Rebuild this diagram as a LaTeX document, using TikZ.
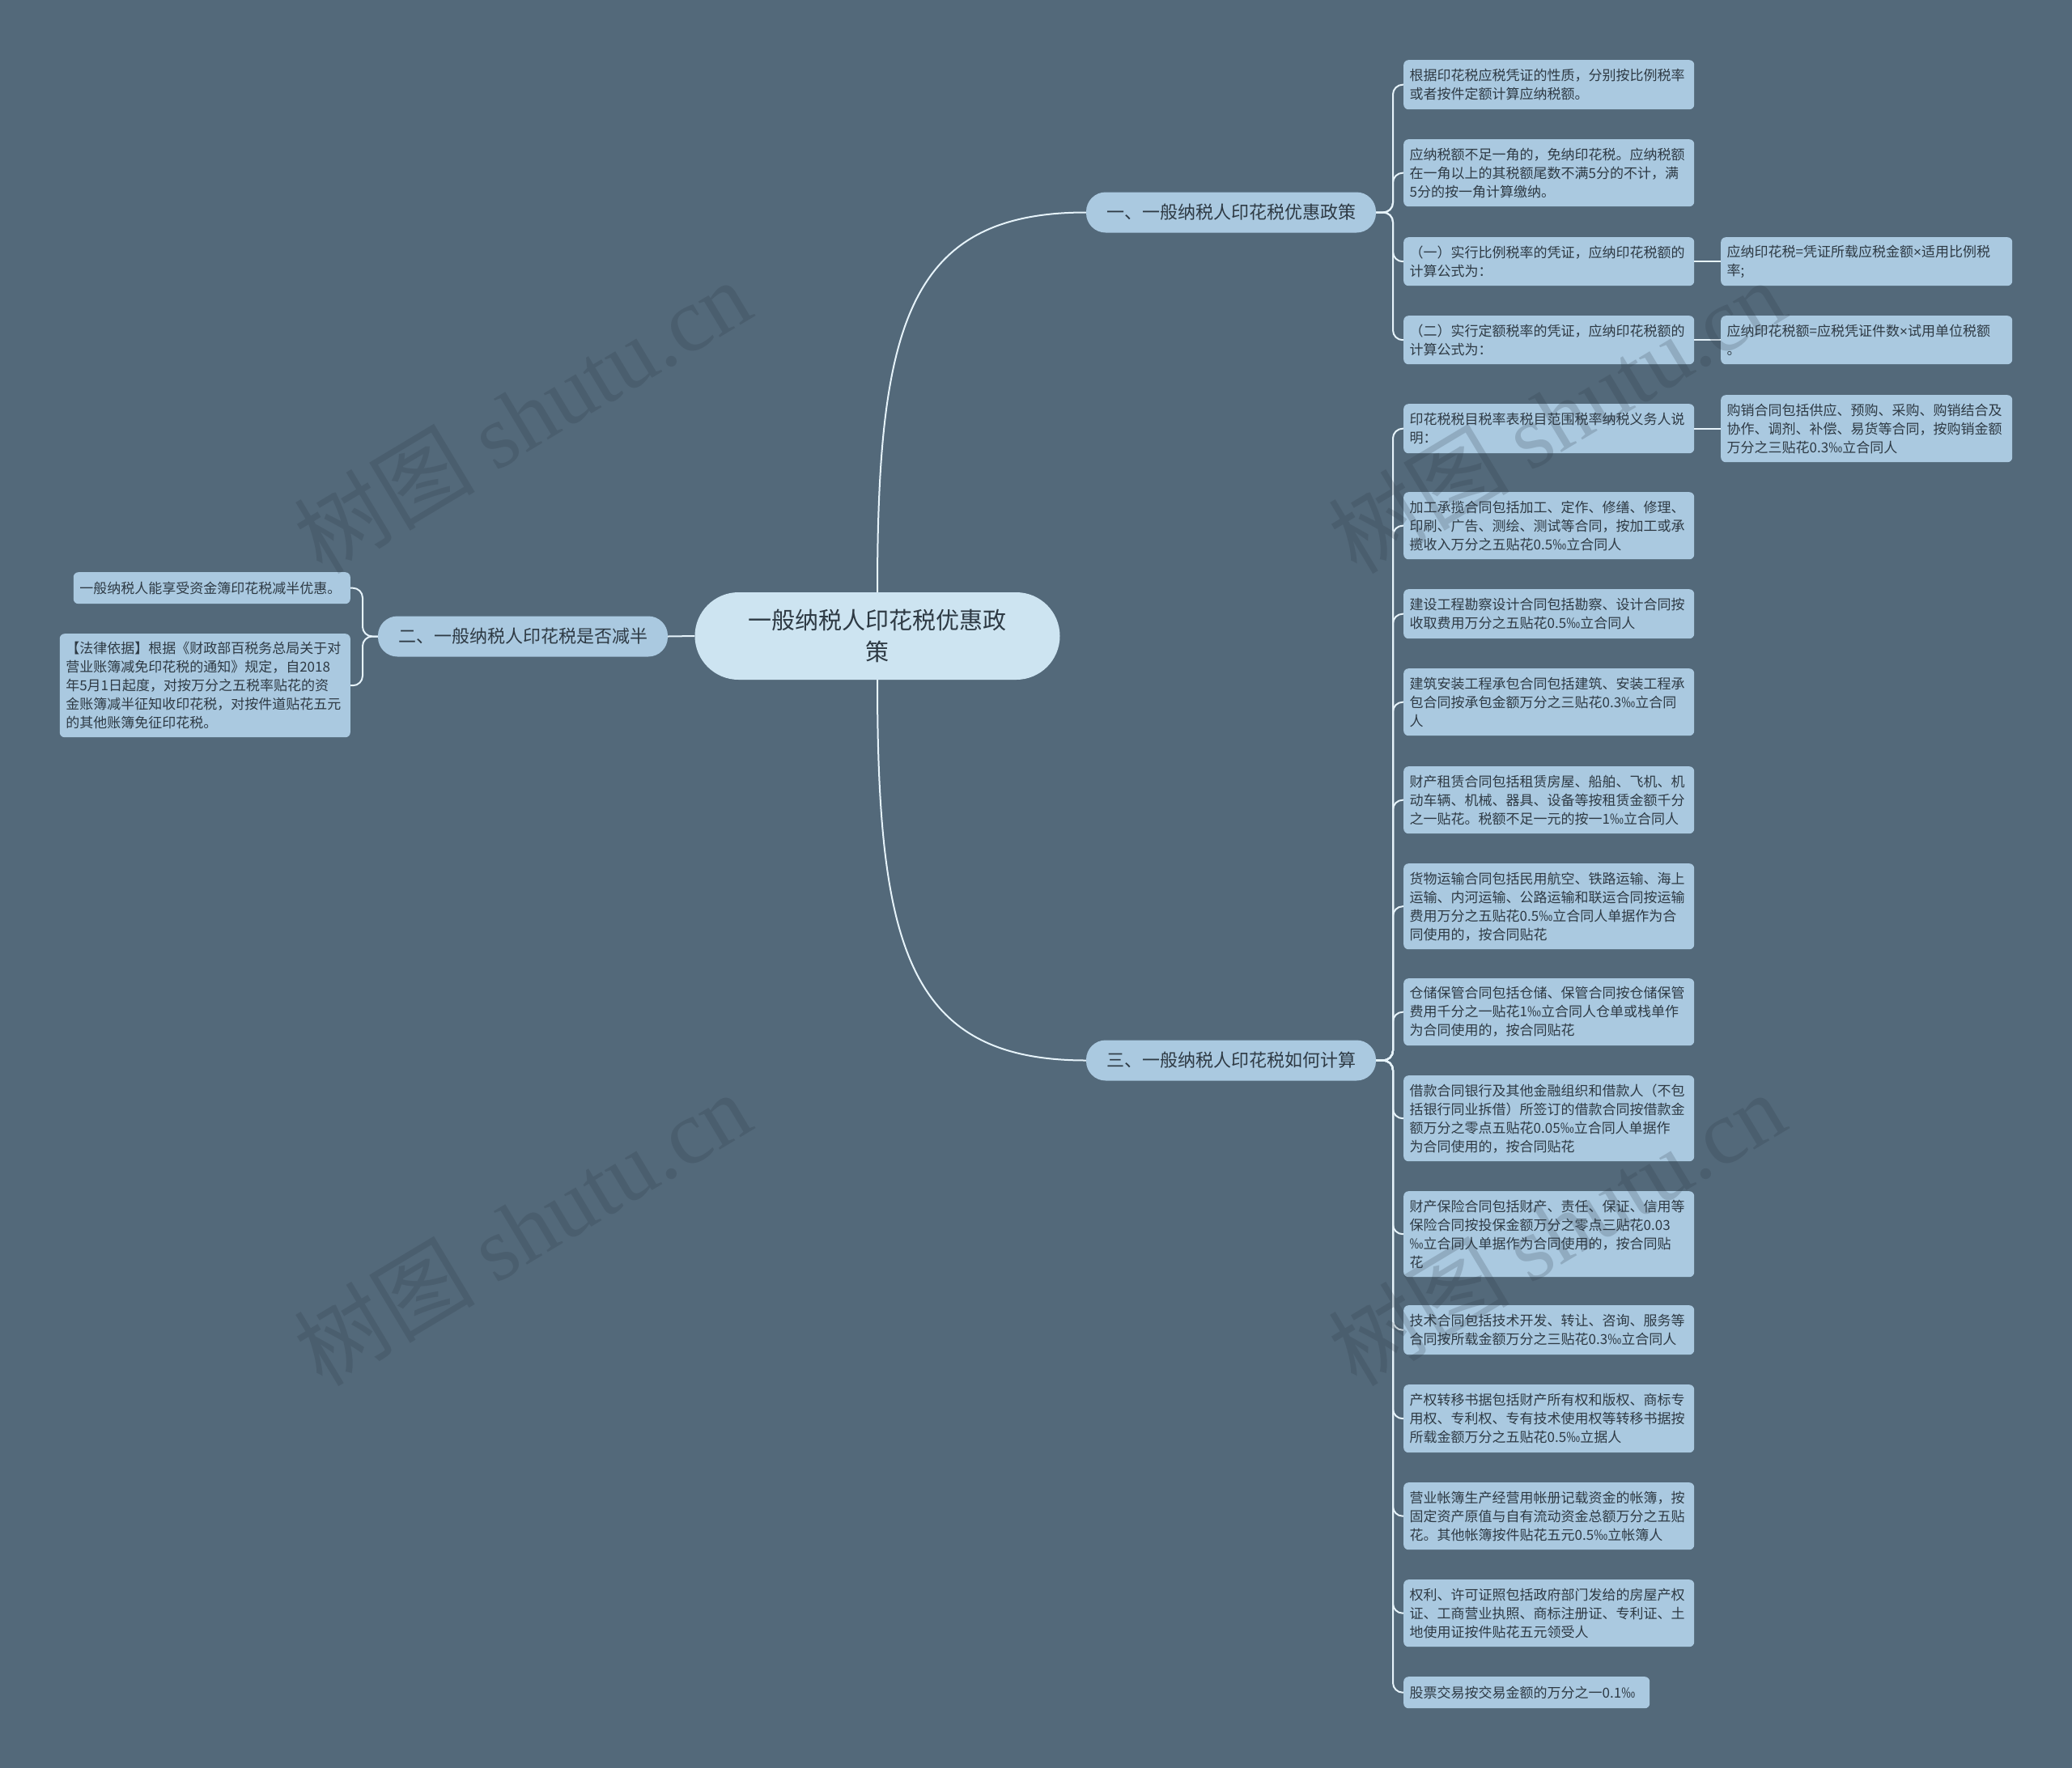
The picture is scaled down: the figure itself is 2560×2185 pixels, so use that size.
\documentclass[tikz,border=0pt]{standalone}
\usepackage{fontspec}
\setmainfont{Noto Sans CJK SC}
\newfontfamily\wmfont{Liberation Serif}
\newfontfamily\latfont{Liberation Sans}
\definecolor{bg}{HTML}{53697A}
\definecolor{leaf}{HTML}{AAC9E0}
\definecolor{rootc}{HTML}{CDE4F1}
\definecolor{txt}{HTML}{2E3A44}
\definecolor{linec}{HTML}{E6F3FA}
\definecolor{wm}{HTML}{2A3440}
\tikzset{
  leafbox/.style={fill=leaf, rounded corners=6pt, text=txt, font=\fontsize{17}{23}\selectfont,
    align=left, inner xsep=7.5pt, inner ysep=0pt, anchor=north west, text width=344pt},
  brbox/.style={fill=leaf, rounded corners=24pt, minimum width=358pt, minimum height=50pt,
    font=\fontsize{22}{28}\selectfont, text=txt, inner sep=0pt},
  conn/.style={draw=linec, line width=2pt, rounded corners=12pt},
  curveconn/.style={draw=linec, line width=2pt},
  wmark/.style={text=wm, text opacity=0.2, rotate=31, font=\fontsize{112}{116}\selectfont}
}
\begin{document}
\begin{tikzpicture}[x=1pt,y=-1pt]
\useasboundingbox (0,0) rectangle (2560,2185);
\fill[bg] (0,0) rectangle (2560,2185);

% root
\node[fill=rootc, rounded corners=54pt, minimum width=451pt, minimum height=108pt, inner sep=0pt,
  text=txt, align=center, font=\fontsize{29}{39}\selectfont] (root) at (1084,786) {一般纳税人印花税优惠政\\策};

% branches
\node[brbox] (b1) at (1521,262.5) {一、一般纳税人印花税优惠政策};
\node[brbox] (b2) at (646,786.5) {二、一般纳税人印花税是否减半};
\node[brbox] (b3) at (1521,1310.5) {三、一般纳税人印花税如何计算};

% branch 1 leaves
\node[leafbox, minimum height=61pt] (l1a) at (1734,74) {根据印花税应税凭证的性质，分别按比例税率\\或者按件定额计算应纳税额。};
\node[leafbox, minimum height=83pt] (l1b) at (1734,172) {应纳税额不足一角的，免纳印花税。应纳税额\\在一角以上的其税额尾数不满5分的不计，满\\5分的按一角计算缴纳。};
\node[leafbox, minimum height=60pt] (l1c) at (1734,293) {（一）实行比例税率的凭证，应纳印花税额的\\计算公式为：};
\node[leafbox, minimum height=60pt] (l1d) at (1734,390) {（二）实行定额税率的凭证，应纳印花税额的\\计算公式为：};
\node[leafbox, minimum height=60pt, text width=345pt] (s1c) at (2126,293) {应纳印花税=凭证所载应税金额{\latfont ×}适用比例税\\率;};
\node[leafbox, minimum height=60pt, text width=345pt] (s1d) at (2126,390) {应纳印花税额=应税凭证件数{\latfont ×}试用单位税额\\。};

% branch 3 leaves
\node[leafbox, minimum height=61pt] (l31) at (1734,499) {印花税税目税率表税目范围税率纳税义务人说\\明：};
\node[leafbox, minimum height=83pt, text width=345pt] (s31) at (2126,488) {购销合同包括供应、预购、采购、购销结合及\\协作、调剂、补偿、易货等合同，按购销金额\\万分之三贴花0.3‰立合同人};
\node[leafbox, minimum height=83pt] (l32) at (1734,608) {加工承揽合同包括加工、定作、修缮、修理、\\印刷、广告、测绘、测试等合同，按加工或承\\揽收入万分之五贴花0.5‰立合同人};
\node[leafbox, minimum height=61pt] (l33) at (1734,728) {建设工程勘察设计合同包括勘察、设计合同按\\收取费用万分之五贴花0.5‰立合同人};
\node[leafbox, minimum height=83pt] (l34) at (1734,826) {建筑安装工程承包合同包括建筑、安装工程承\\包合同按承包金额万分之三贴花0.3‰立合同\\人};
\node[leafbox, minimum height=83pt] (l35) at (1734,947) {财产租赁合同包括租赁房屋、船舶、飞机、机\\动车辆、机械、器具、设备等按租赁金额千分\\之一贴花。税额不足一元的按一1‰立合同人};
\node[leafbox, minimum height=106pt] (l36) at (1734,1067) {货物运输合同包括民用航空、铁路运输、海上\\运输、内河运输、公路运输和联运合同按运输\\费用万分之五贴花0.5‰立合同人单据作为合\\同使用的，按合同贴花};
\node[leafbox, minimum height=83pt] (l37) at (1734,1209) {仓储保管合同包括仓储、保管合同按仓储保管\\费用千分之一贴花1‰立合同人仓单或栈单作\\为合同使用的，按合同贴花};
\node[leafbox, minimum height=106pt] (l38) at (1734,1329) {借款合同银行及其他金融组织和借款人（不包\\括银行同业拆借）所签订的借款合同按借款金\\额万分之零点五贴花0.05‰立合同人单据作\\为合同使用的，按合同贴花};
\node[leafbox, minimum height=106pt] (l39) at (1734,1472) {财产保险合同包括财产、责任、保证、信用等\\保险合同按投保金额万分之零点三贴花0.03\\‰立合同人单据作为合同使用的，按合同贴\\花};
\node[leafbox, minimum height=61pt] (l310) at (1734,1613) {技术合同包括技术开发、转让、咨询、服务等\\合同按所载金额万分之三贴花0.3‰立合同人};
\node[leafbox, minimum height=84pt] (l311) at (1734,1711) {产权转移书据包括财产所有权和版权、商标专\\用权、专利权、专有技术使用权等转移书据按\\所载金额万分之五贴花0.5‰立据人};
\node[leafbox, minimum height=83pt] (l312) at (1734,1832) {营业帐簿生产经营用帐册记载资金的帐簿，按\\固定资产原值与自有流动资金总额万分之五贴\\花。其他帐簿按件贴花五元0.5‰立帐簿人};
\node[leafbox, minimum height=83pt] (l313) at (1734,1952) {权利、许可证照包括政府部门发给的房屋产权\\证、工商营业执照、商标注册证、专利证、土\\地使用证按件贴花五元领受人};
\node[leafbox, minimum height=39pt, text width=289pt] (l314) at (1734,2072) {股票交易按交易金额的万分之一0.1‰};

% branch 2 leaves
\node[leafbox, anchor=north east, minimum height=39pt, text width=327pt] (l2a) at (433,707) {一般纳税人能享受资金簿印花税减半优惠。};
\node[leafbox, anchor=north east, minimum height=128pt] (l2b) at (433,783) {【法律依据】根据《财政部百税务总局关于对\\营业账簿减免印花税的通知》规定，自2018\\年5月1日起度，对按万分之五税率贴花的资\\金账簿减半征知收印花税，对按件道贴花五元\\的其他账簿免征印花税。};

% junction coordinates
\coordinate (j1) at (1721,262.5);
\coordinate (j3) at (1721,1310.5);
\coordinate (j2) at (448,786.5);

% root connectors
\draw[curveconn] (root.north) .. controls +(0,-330) and +(-220,0) .. (b1.west);
\draw[curveconn] (root.south) .. controls +(0,330) and +(-220,0) .. (b3.west);
\draw[curveconn] (root.west) -- (b2.east);

% branch 1 connectors
\foreach \c in {l1a,l1b,l1c,l1d}{
  \draw[conn] (b1.east) -- (j1) |- (\c.west);
}
\draw[curveconn] (l1c.east) -- (s1c.west);
\draw[curveconn] (l1d.east) -- (s1d.west);

% branch 3 connectors
\foreach \c in {l31,l32,l33,l34,l35,l36,l37,l38,l39,l310,l311,l312,l313,l314}{
  \draw[conn] (b3.east) -- (j3) |- (\c.west);
}
\draw[curveconn] (l31.east) -- (s31.west);

% branch 2 connectors
\foreach \c in {l2a,l2b}{
  \draw[conn] (b2.west) -- (j2) |- (\c.east);
}

% watermarks (drawn over everything, faint)
\node[wmark] (wm1) at (645,514) {树图 {\wmfont shutu.cn}};
\node[wmark] (wm2) at (1923,514) {树图 {\wmfont shutu.cn}};
\node[wmark] (wm3) at (645,1518) {树图 {\wmfont shutu.cn}};
\node[wmark] (wm4) at (1923,1518) {树图 {\wmfont shutu.cn}};
\end{tikzpicture}
\end{document}
